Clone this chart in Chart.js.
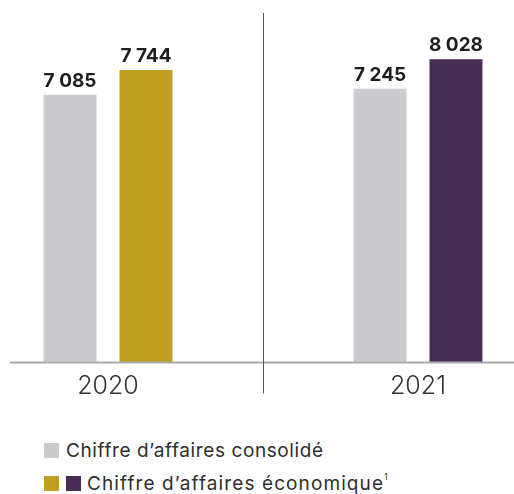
<!DOCTYPE html>
<html>
<head>
<meta charset="utf-8">
<script src="https://cdn.jsdelivr.net/npm/chart.js@4"></script>
<style>
  body { margin: 0; background: #fff; }
  #wrap { position: relative; width: 514px; height: 494px; }
  #chart { position: absolute; left: 0; top: 0; }
  .legend { position: absolute; left: 44px; font-family: Inter, "DejaVu Sans", sans-serif; font-size: 19px; letter-spacing: 0.6px; color: #2e2e2e; display: flex; align-items: center; white-space: nowrap; }
  .legend .sq { width: 15px; height: 15px; display: inline-block; margin-right: 7px; }
  .legend .wide { letter-spacing: 1.1px; margin-left: -1px; }
  .legend sup { font-size: 9px; position: relative; top: -7px; letter-spacing: 0; }
</style>
</head>
<body>
<div id="wrap">
  <canvas id="chart" width="514" height="400"></canvas>
  <div class="legend" style="top:439px">
    <span class="sq" style="background:#cbcacf"></span>Chiffre d’affaires consolidé
  </div>
  <div class="legend" style="top:472px">
    <span class="sq" style="background:#c29f20"></span><span class="sq" style="background:#472c54"></span><span class="wide">Chiffre d’affaires économique</span><sup>1</sup>
  </div>
</div>
<script>
const years = ['2020', '2021'];
const consolide = [7085, 7245];
const economique = [7744, 8028];
const economiqueColors = ['#c29f20', '#472c54'];

const fmt = v => String(v).replace(/\B(?=(\d{3})+(?!\d))/g, ' ');

// value above each bar, axis line and the divider between years
const extras = {
  id: 'extras',
  afterDatasetsDraw(chart) {
    const ctx = chart.ctx;
    const area = chart.chartArea;
    ctx.save();
    ctx.font = 'bold 19px Inter, "DejaVu Sans", sans-serif';
    ctx.fillStyle = '#1e1e1e';
    ctx.textAlign = 'center';
    ctx.textBaseline = 'alphabetic';
    chart.data.datasets.forEach((ds, i) => {
      chart.getDatasetMeta(i).data.forEach((bar, j) => {
        ctx.fillText(fmt(ds.data[j]), bar.x, bar.y - 8);
      });
    });

    ctx.strokeStyle = '#a9a9ab';
    ctx.lineWidth = 2;
    ctx.beginPath();
    ctx.moveTo(10, area.bottom);
    ctx.lineTo(514, area.bottom);
    ctx.stroke();

    const mid = (chart.scales.x.getPixelForValue(0) + chart.scales.x.getPixelForValue(1)) / 2;
    ctx.strokeStyle = '#555';
    ctx.lineWidth = 1;
    ctx.beginPath();
    ctx.moveTo(Math.round(mid) + 0.5, area.top);
    ctx.lineTo(Math.round(mid) + 0.5, area.bottom + 31);
    ctx.stroke();
    ctx.restore();
  }
};

new Chart(document.getElementById('chart'), {
  type: 'bar',
  data: {
    labels: years,
    datasets: [
      { label: 'Chiffre d’affaires consolidé', data: consolide, backgroundColor: '#cbcacf', clip: false },
      { label: 'Chiffre d’affaires économique', data: economique, backgroundColor: economiqueColors, clip: false }
    ]
  },
  options: {
    responsive: false,
    animation: false,
    categoryPercentage: 0.49,
    barPercentage: 0.697,
    layout: { padding: { top: 13, left: 108, right: 96, bottom: 0 } },
    plugins: { legend: { display: false }, tooltip: { enabled: false } },
    scales: {
      x: {
        offset: false,
        grid: { display: false, drawTicks: false },
        border: { display: false },
        ticks: { color: '#333', padding: 9, font: { family: 'Inter, "DejaVu Sans", sans-serif', size: 25, weight: '300' } },
        afterFit(scale) { scale.height = 37.5; }
      },
      y: { display: false, min: 0, max: 9250 }
    }
  },
  plugins: [extras]
});
</script>
</body>
</html>
